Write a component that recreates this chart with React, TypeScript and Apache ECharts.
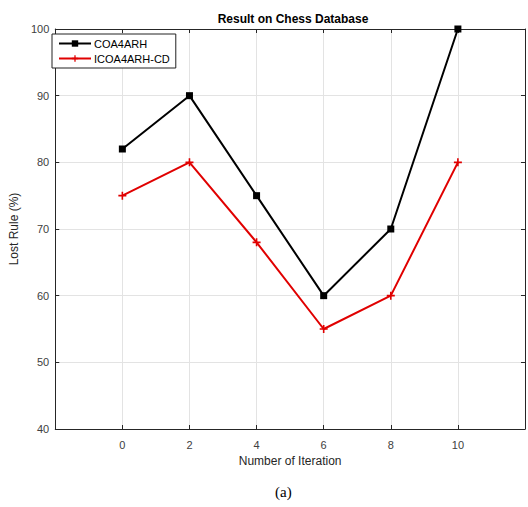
import React, { useEffect, useRef } from "react";
import * as echarts from "echarts";

const iterations = [0, 2, 4, 6, 8, 10];
const coa4arh = [82, 90, 75, 60, 70, 100];
const icoa4arhCd = [75, 80, 68, 55, 60, 80];
const seriesNames = ["COA4ARH", "ICOA4ARH-CD"];

const plusPath = "path://M4,0h2v4h4v2h-4v4h-2v-4h-4v-2h4z";
const FONT = "'Liberation Sans', Arial, sans-serif";

export default function App() {
  const ref = useRef<HTMLDivElement>(null);
  useEffect(() => {
    document.body.style.margin = "0";
    const chart = echarts.init(ref.current!, undefined, { renderer: "svg" });
    const axisColor = "#262626";
    const hide = (v: number) => (v === -2 || v === 12 ? "" : String(v));
    chart.setOption({
      animation: false,
      backgroundColor: "#ffffff",
      title: {
        text: "Result on Chess Database",
        left: 288,
        textAlign: "center",
        top: 8,
        textStyle: { fontFamily: FONT, fontSize: 12, fontWeight: "bold", color: "#000" },
      },
      legend: {
        orient: "vertical",
        left: 52,
        top: 34,
        padding: [4, 6, 4, 6],
        itemGap: 4,
        itemWidth: 32,
        itemHeight: 8,
        borderColor: "#222",
        borderWidth: 1,
        backgroundColor: "#fff",
        textStyle: { fontFamily: FONT, fontSize: 11, color: "#000", padding: [0, 0, 0, -2] },
        data: seriesNames,
      },
      grid: { left: 50, right: 2, top: 29, bottom: 78, show: false },
      xAxis: [
        {
          type: "value",
          min: -2,
          max: 12,
          interval: 2,
          name: "Number of Iteration",
          nameLocation: "middle",
          nameGap: 26,
          nameTextStyle: { fontFamily: FONT, fontSize: 12, color: "#262626" },
          axisLine: { show: true, onZero: false, lineStyle: { color: axisColor, width: 1 } },
          axisTick: { show: true, inside: true, length: 4, lineStyle: { color: axisColor } },
          axisLabel: { formatter: hide, fontFamily: FONT, fontSize: 11, color: "#404040", margin: 10 },
          splitLine: { show: true, lineStyle: { color: "#e3e3e3", width: 1 } },
        },
        {
          type: "value",
          position: "top",
          min: -2,
          max: 12,
          interval: 2,
          axisLine: { show: true, onZero: false, lineStyle: { color: axisColor, width: 1 } },
          axisTick: { show: true, inside: true, length: 4, lineStyle: { color: axisColor } },
          axisLabel: { show: false },
          splitLine: { show: false },
        },
      ],
      yAxis: [
        {
          type: "value",
          min: 40,
          max: 100,
          interval: 10,
          name: "Lost Rule (%)",
          nameLocation: "middle",
          nameGap: 24,
          nameRotate: 90,
          nameTextStyle: { fontFamily: FONT, fontSize: 12, color: "#262626" },
          axisLine: { show: true, onZero: false, lineStyle: { color: axisColor, width: 1 } },
          axisTick: { show: true, inside: true, length: 4, lineStyle: { color: axisColor } },
          axisLabel: { fontFamily: FONT, fontSize: 11, color: "#404040", margin: 6 },
          splitLine: { show: true, lineStyle: { color: "#e3e3e3", width: 1 } },
        },
        {
          type: "value",
          position: "right",
          min: 40,
          max: 100,
          interval: 10,
          axisLine: { show: true, onZero: false, lineStyle: { color: axisColor, width: 1 } },
          axisTick: { show: true, inside: true, length: 4, lineStyle: { color: axisColor } },
          axisLabel: { show: false },
          splitLine: { show: false },
        },
      ],
      series: [
        {
          name: seriesNames[0],
          type: "line",
          xAxisIndex: 0,
          yAxisIndex: 0,
          data: iterations.map((x, i) => [x, coa4arh[i]]),
          symbol: "rect",
          symbolSize: 7,
          lineStyle: { color: "#000", width: 2 },
          itemStyle: { color: "#000" },
        },
        {
          name: seriesNames[1],
          type: "line",
          xAxisIndex: 0,
          yAxisIndex: 0,
          data: iterations.map((x, i) => [x, icoa4arhCd[i]]),
          symbol: plusPath,
          symbolSize: 8,
          lineStyle: { color: "#e00000", width: 2 },
          itemStyle: { color: "#e00000" },
        },
      ],
      graphic: [
        {
          type: "text",
          left: 275,
          top: 484,
          style: { text: "(a)", font: "15px 'Liberation Serif', 'Times New Roman', serif", fill: "#000" },
        },
      ],
    });
    return () => chart.dispose();
  }, []);
  return <div ref={ref} style={{ position: "absolute", left: 0, top: 0, width: 528, height: 507 }} />;
}
